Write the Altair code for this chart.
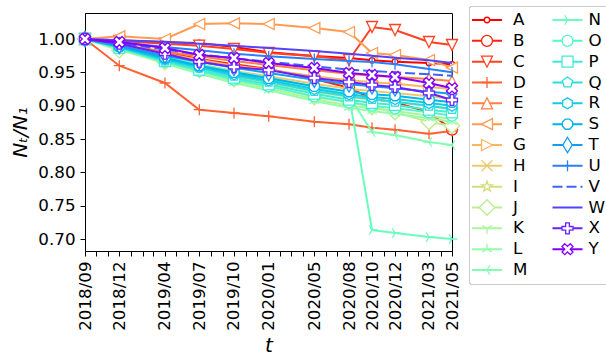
import altair as alt
import numpy as np
import pandas as pd

dates = ["2018/09", "2018/12", "2019/04", "2019/07", "2019/10", "2020/01",
         "2020/05", "2020/08", "2020/10", "2020/12", "2021/03", "2021/05"]
names = list("ABCDEFGHIJKLMNOPQRSTUVWXY")

A = [1.000, 0.998, 0.995, 0.994, 0.988, 0.980, 0.9745, 0.9715, 0.968, 0.966, 0.964, 0.962]
B = [1.000, 0.990, 0.980, 0.970, 0.962, 0.955, 0.940, 0.927, 0.910, 0.905, 0.890, 0.864]
C = [1.000, 0.997, 0.993, 0.990, 0.985, 0.979, 0.974, 0.9685, 1.018, 1.0135, 0.9955, 0.991]
D = [1.000, 0.960, 0.934, 0.894, 0.889, 0.884, 0.876, 0.872, 0.867, 0.864, 0.858, 0.862]
E = [1.000, 0.992, 0.981, 0.974, 0.967, 0.961, 0.953, 0.948, 0.945, 0.943, 0.940, 0.937]
F = [1.000, 1.004, 1.000, 1.0225, 1.0235, 1.0225, 1.0165, 1.0105, 0.979, 0.976, 0.9685, 0.957]
G = [1.000, 0.991, 0.978, 0.969, 0.960, 0.954, 0.944, 0.938, 0.935, 0.933, 0.928, 0.925]
H = [1.000, 0.989, 0.973, 0.962, 0.952, 0.944, 0.933, 0.925, 0.922, 0.919, 0.914, 0.910]
I = [1.000, 0.987, 0.969, 0.956, 0.944, 0.935, 0.921, 0.913, 0.909, 0.906, 0.899, 0.895]
J = [1.000, 0.983, 0.9655, 0.9535, 0.940, 0.931, 0.913, 0.9055, 0.898, 0.8905, 0.8755, 0.870]
K = [1.000, 0.986, 0.964, 0.950, 0.936, 0.926, 0.910, 0.900, 0.896, 0.892, 0.885, 0.880]
L = [1.000, 0.985, 0.963, 0.948, 0.934, 0.923, 0.907, 0.897, 0.892, 0.888, 0.881, 0.876]
M = [1.000, 0.988, 0.972, 0.960, 0.949, 0.940, 0.926, 0.915, 0.8605, 0.856, 0.8455, 0.841]
N = [1.000, 0.989, 0.974, 0.962, 0.951, 0.942, 0.928, 0.916, 0.7135, 0.709, 0.703, 0.700]
O = [1.000, 0.986, 0.966, 0.952, 0.939, 0.929, 0.914, 0.905, 0.900, 0.896, 0.890, 0.885]
P = [1.000, 0.987, 0.967, 0.954, 0.942, 0.932, 0.918, 0.909, 0.904, 0.901, 0.894, 0.890]
Q = [1.000, 0.988, 0.968, 0.957, 0.945, 0.936, 0.922, 0.914, 0.910, 0.906, 0.900, 0.895]
R = [1.000, 0.988, 0.970, 0.958, 0.947, 0.938, 0.925, 0.917, 0.913, 0.910, 0.904, 0.900]
S = [1.000, 0.989, 0.972, 0.960, 0.950, 0.941, 0.929, 0.921, 0.917, 0.915, 0.909, 0.905]
T = [1.000, 0.990, 0.975, 0.966, 0.957, 0.949, 0.939, 0.932, 0.929, 0.926, 0.921, 0.918]
U = [1.000, 0.995, 0.988, 0.983, 0.978, 0.974, 0.970, 0.967, 0.9655, 0.962, 0.955, 0.950]
V = [1.000, 0.994, 0.984, 0.977, 0.971, 0.966, 0.959, 0.954, 0.952, 0.950, 0.947, 0.945]
W = [1.000, 0.998, 0.996, 0.993, 0.990, 0.9865, 0.982, 0.978, 0.975, 0.972, 0.968, 0.964]
X = [1.000, 0.993, 0.978, 0.966, 0.958, 0.9535, 0.9415, 0.9355, 0.931, 0.928, 0.919, 0.9085]
Y = [1.000, 0.9955, 0.9865, 0.976, 0.9715, 0.964, 0.9565, 0.949, 0.946, 0.943, 0.934, 0.926]

values = dict(A=A, B=B, C=C, D=D, E=E, F=F, G=G, H=H, I=I, J=J, K=K, L=L, M=M,
              N=N, O=O, P=P, Q=Q, R=R, S=S, T=T, U=U, V=V, W=W, X=X, Y=Y)
y_ticks = [0.70, 0.75, 0.80, 0.85, 0.90, 0.95, 1.00]


# ---- styles: matplotlib "rainbow" colormap, reversed ----
def rainbow(x):
    r = min(max(abs(2 * x - 0.5), 0), 1)
    g = min(max(np.sin(np.pi * x), 0), 1)
    b = min(max(np.cos(np.pi * x / 2), 0), 1)
    return "#%02x%02x%02x" % (round(r * 255), round(g * 255), round(b * 255))


colors = [rainbow(1 - i / 24) for i in range(25)]


def pts_path(pts, close=True):
    s = "M" + "L".join(f"{x:.3f},{y:.3f}" for x, y in pts)
    return s + ("Z" if close else "")


def regular(n, r=1.0, rot=0.0):
    return pts_path([(r * np.sin(rot + 2 * np.pi * k / n), -r * np.cos(rot + 2 * np.pi * k / n)) for k in range(n)])


def star():
    pts = []
    for k in range(10):
        rr = 1.0 if k % 2 == 0 else 0.382
        a = np.pi * k / 5
        pts.append((rr * np.sin(a), -rr * np.cos(a)))
    return pts_path(pts)


s3 = 0.866
shapes = {
    "A": "circle",
    "B": "circle",
    "C": "M-1,-1L1,-1L0,1Z",
    "D": "M-1,0L1,0M0,-1L0,1",
    "E": "M0,-1L1,1L-1,1Z",
    "F": "M-1,0L1,-1L1,1Z",
    "G": "M1,0L-1,-1L-1,1Z",
    "H": "M-1,-1L1,1M-1,1L1,-1",
    "I": star(),
    "J": "M0,-1.41L1.41,0L0,1.41L-1.41,0Z",
    "K": f"M0,0L0,1M0,0L{-s3},-0.5M0,0L{s3},-0.5",
    "L": f"M0,0L0,-1M0,0L{-s3},0.5M0,0L{s3},0.5",
    "M": f"M0,0L-1,0M0,0L0.5,{-s3}M0,0L0.5,{s3}",
    "N": f"M0,0L1,0M0,0L-0.5,{-s3}M0,0L-0.5,{s3}",
    "O": "circle",
    "P": "M-1,-1L1,-1L1,1L-1,1Z",
    "Q": regular(5),
    "R": regular(6),
    "S": regular(8, rot=np.pi / 8),
    "T": "M0,-1.41L0.85,0L0,1.41L-0.85,0Z",
    "U": "M0,-1L0,1",
    "X": pts_path([(x / 3, y / 3) for x, y in [(-1, -3), (1, -3), (1, -1), (3, -1), (3, 1), (1, 1),
                                                 (1, 3), (-1, 3), (-1, 1), (-3, 1), (-3, -1), (-1, -1)]]),
    "Y": pts_path([(x / 2, y / 2) for x, y in [(-1, -2), (0, -1), (1, -2), (2, -1), (1, 0), (2, 1),
                                                 (1, 2), (0, 1), (-1, 2), (-2, 1), (-1, 0), (-2, -1)]]),
}
sizes = {n: 121 for n in names}
sizes["A"] = 30

# ---- data table ----
rows = []
for n in names:
    for d, v in zip(dates, values[n]):
        rows.append({"series": n, "date": pd.Timestamp(d.replace("/", "-") + "-01"), "value": v})
df = pd.DataFrame(rows)

FONT = "DejaVu Sans"
FS = 16.7
label_list = "[" + ",".join(f"'{d}'" for d in dates) + "]"
month_ticks = [alt.DateTime(year=2018 + (8 + k) // 12, month=(8 + k) % 12 + 1, date=1) for k in range(33)]

x_enc = alt.X(
    "date:T",
    scale=alt.Scale(domain=[alt.DateTime(year=2018, month=9, date=1),
                            alt.DateTime(year=2021, month=5, date=1)], nice=False),
    axis=alt.Axis(values=month_ticks, title="t", titleFontStyle="italic",
                  labelExpr=f"indexof({label_list}, timeFormat(datum.value, '%Y/%m')) >= 0 ? timeFormat(datum.value, '%Y/%m') : ''",
                  labelAngle=-90, labelOverlap=False, labelFlush=False, labelPadding=5,
                  tickSize=5, titlePadding=5),
)
y_enc = alt.Y(
    "value:Q",
    scale=alt.Scale(domain=[0.682, 1.039], nice=False, zero=False),
    axis=alt.Axis(values=y_ticks, format=".2f", title="Nₜ/N₁", titleFontStyle="italic",
                  tickSize=5, labelPadding=5, titlePadding=7),
)

layers = []
for i, n in enumerate(names):
    sub = alt.Chart(df).transform_filter(alt.datum.series == n)
    line_kw = dict(color=colors[i], strokeWidth=2)
    if n == "V":
        line_kw["strokeDash"] = [10, 4]
    layers.append(sub.mark_line(**line_kw).encode(x=x_enc, y=y_enc))
    if n in shapes:
        layers.append(sub.mark_point(shape=shapes[n], size=sizes[n], filled=True, fill="white",
                                     stroke=colors[i], strokeWidth=1.3, opacity=1)
                      .encode(x=x_enc, y=y_enc))
main = alt.layer(*layers)

# ---- legend (two columns, drawn from the names list) ----
leg = pd.DataFrame({"name": names,
                    "col": [0 if i < 13 else 1 for i in range(25)],
                    "row": [i if i < 13 else i - 13 for i in range(25)]})
lx = alt.X("col:Q", scale=alt.Scale(domain=[0, 1], range=[402, 482.5]), axis=None)
ly = alt.Y("row:Q", scale=alt.Scale(domain=[0, 12], range=[7, 257]), axis=None)
col_enc = alt.Color("name:N", scale=alt.Scale(domain=names, range=colors), legend=None)
dash_enc = alt.StrokeDash("name:N", scale=alt.Scale(domain=names,
                          range=[[10, 4] if n == "V" else [1, 0] for n in names]), legend=None)
marked = [n for n in names if n in shapes]
shape_enc = alt.Shape("name:N", scale=alt.Scale(domain=marked, range=[shapes[n] for n in marked]), legend=None)

frame = alt.Chart(leg).mark_rect(fill="white", stroke="#cccccc", strokeWidth=1, cornerRadius=3).encode(
    x=alt.value(384.5), x2=alt.value(620), y=alt.value(-6.5), y2=alt.value(271.5))
base = alt.Chart(leg)
leg_rule = base.mark_rule(strokeWidth=2, xOffset=-15, x2Offset=15).encode(
    x=lx, x2="col:Q", y=ly, color=col_enc, strokeDash=dash_enc)
leg_pts_big = base.transform_filter(alt.FieldOneOfPredicate(field="name", oneOf=[n for n in marked if n != "A"])) \
    .mark_point(size=121, filled=True, fill="white", strokeWidth=1.3, opacity=1).encode(
    x=lx, y=ly, stroke=alt.Stroke("name:N", scale=alt.Scale(domain=names, range=colors), legend=None),
    shape=shape_enc)
leg_pts_small = base.transform_filter(alt.datum.name == "A") \
    .mark_point(size=30, shape="circle", filled=True, fill="white", strokeWidth=1.3, opacity=1,
                stroke=colors[0]).encode(x=lx, y=ly)
leg_text0 = base.transform_filter(alt.datum.col == 0).mark_text(
    align="left", baseline="middle", dx=26, fontSize=FS, font=FONT, color="black").encode(
    x=lx, y=ly, text="name:N")
leg_text1 = base.transform_filter(alt.datum.col == 1).mark_text(
    align="left", baseline="middle", dx=21, fontSize=FS, font=FONT, color="black").encode(
    x=lx, y=ly, text="name:N")
legend = alt.layer(frame, leg_rule, leg_pts_big, leg_pts_small, leg_text0, leg_text1)

chart = alt.layer(main, legend).resolve_scale(
    x="independent", y="independent"
).properties(
    width=367, height=238,
    autosize=alt.AutoSizeParams(type="none"),
    padding={"left": 85, "top": 13, "right": 154, "bottom": 107},
    background="white",
).configure_view(
    stroke="black", strokeWidth=1
).configure_axis(
    grid=False, domainColor="black", tickColor="black", labelColor="black",
    labelFont=FONT, labelFontSize=FS, titleFont=FONT, titleFontSize=20,
    titleFontWeight="normal", titleColor="black", domainWidth=1, tickWidth=1,
)

chart.save("out.html", embed_options={"renderer": "svg", "actions": False})
